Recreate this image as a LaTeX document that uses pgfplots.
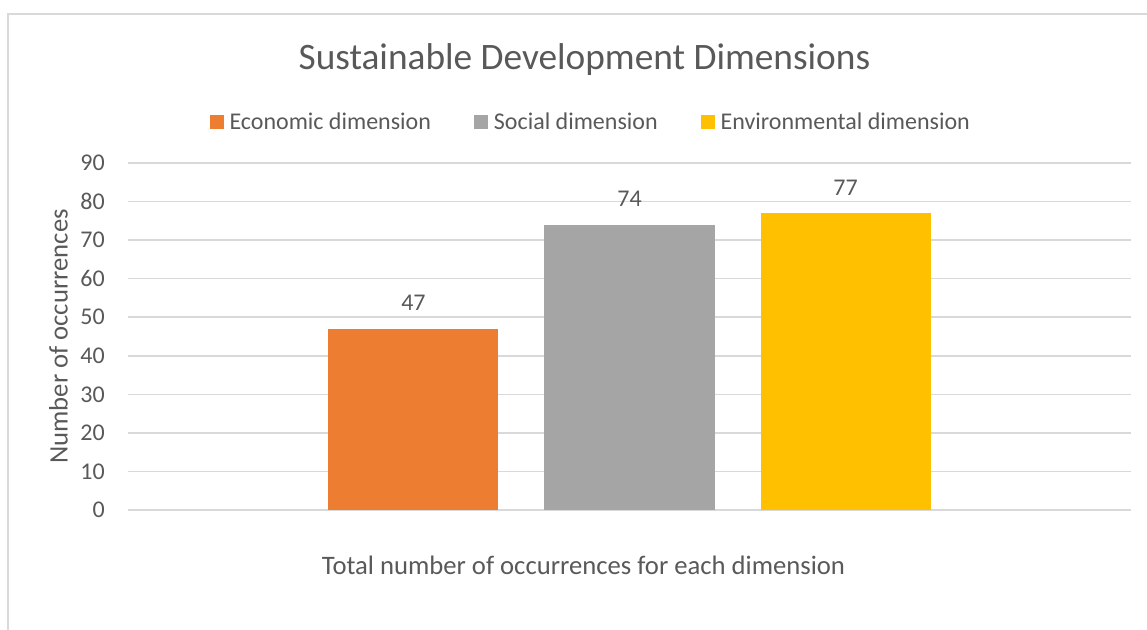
\documentclass[border=0pt]{standalone}
\usepackage{pgfplots}
\pgfplotsset{compat=1.18}
\usepackage{fontspec}
\setmainfont{Carlito}
\definecolor{econ}{HTML}{ED7D31}
\definecolor{soc}{HTML}{A5A5A5}
\definecolor{env}{HTML}{FFC000}
\definecolor{gridc}{HTML}{D9D9D9}
\definecolor{txt}{HTML}{595959}
\newcommand{\nf}{\fontsize{18pt}{21pt}\selectfont}
\newcommand{\lf}{\fontsize{20pt}{24pt}\selectfont}
\begin{document}
\begin{tikzpicture}
\useasboundingbox (0,0) rectangle (860.25pt,472.5pt);
\draw[gridc, line width=1.2pt] (6pt,-5pt) -- (6pt,462pt) -- (870pt,462pt);
\begin{axis}[
  at={(96pt,90pt)}, anchor=south west,
  scale only axis, width=752.25pt, height=260.25pt,
  xmin=-0.5, xmax=0.5, ymin=0, ymax=90,
  ytick={0,10,...,90}, xtick=\empty,
  ymajorgrids, grid style={draw=gridc, line width=1.2pt},
  axis line style={draw=none},
  major tick length=0pt,
  /pgf/number format/assume math mode=true,
  tick label style={font=\nf, text=txt},
  yticklabel style={inner sep=0pt, xshift=-17.25pt},
  ylabel={Number of occurrences},
  ylabel style={font=\lf, text=txt, at={(axis description cs:-0.0603,0.5)}, anchor=base},
  xlabel={Total number of occurrences for each dimension},
  xlabel style={font=\lf, text=txt, at={(axis description cs:0.4541,-0.1873)}, anchor=base},
  title={Sustainable Development Dimensions},
  every axis title shift=0pt,
  title style={font=\fontsize{28pt}{33pt}\selectfont, text=txt, at={(axis description cs:0.4551,1.2709)}, anchor=base},
  ybar, bar width=0.1695, bar shift=0pt,
  nodes near coords,
  nodes near coords style={font=\nf, text=txt, anchor=base, yshift=13.5pt},
  legend columns=3,
  legend style={draw=none, fill=none, at={(axis description cs:0.0818,1.1182)}, anchor=west,
    inner sep=0pt, outer sep=0pt, font=\nf, text=txt,
    nodes={inner xsep=4.1pt, inner ysep=0pt},
    /tikz/every even column/.append style={column sep=28.5pt}},
  legend cell align=left,
  legend image code/.code={\fill[#1] (0pt,-5.25pt) rectangle (10.5pt,5.25pt);},
]
\addplot[fill=econ, draw=none] coordinates {(-0.2154,47)};
\addplot[fill=soc, draw=none] coordinates {(0,74)};
\addplot[fill=env, draw=none] coordinates {(0.2154,77)};
\legend{Economic dimension, Social dimension, Environmental dimension}
\end{axis}
\end{tikzpicture}
\end{document}
